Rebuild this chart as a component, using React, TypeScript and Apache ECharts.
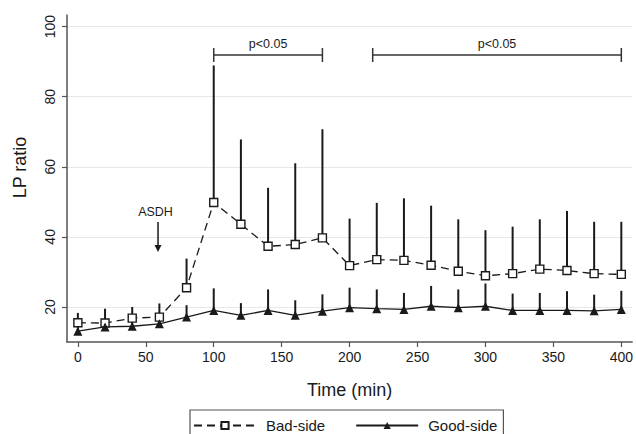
import React, { useEffect, useRef } from "react";
import * as echarts from "echarts";

const times = [0, 20, 40, 60, 80, 100, 120, 140, 160, 180, 200, 220, 240, 260, 280, 300, 320, 340, 360, 380, 400];
const badMean = [15.5, 15.4, 16.8, 17.1, 25.5, 49.8, 43.6, 37.3, 37.8, 39.7, 31.8, 33.5, 33.3, 31.9, 30.2, 28.9, 29.5, 30.8, 30.4, 29.5, 29.3];
const badUpper = [18.3, 19.5, 20, 21, 33.8, 88.9, 67.8, 54, 61, 70.7, 45.2, 49.7, 51, 48.9, 45, 41.9, 42.9, 45, 47.4, 44.3, 44.3];
const goodMean = [13.1, 14.3, 14.5, 15.2, 17.1, 19, 17.6, 19, 17.6, 18.8, 19.8, 19.5, 19.3, 20.2, 19.8, 20.2, 19, 19, 19, 18.9, 19.3];
const goodUpper = [15, 16, 16.5, 17.5, 20.5, 25.3, 21.1, 25, 21.9, 23.6, 25.5, 25, 24, 26, 25, 26.7, 23.8, 24, 24.5, 23.5, 24.6];

const xTicks = [0, 50, 100, 150, 200, 250, 300, 350, 400];
const yTicks = [20, 40, 60, 80, 100];

const sigStart = [100, 217];
const sigEnd = [180, 400];
const sigLevel = [91.9, 91.9];
const sigLabels = ["p<0.05", "p<0.05"];

const eventTimes = [59];
const eventLevels = [35.7];
const eventLabels = ["ASDH"];

const FONT = "'Liberation Sans', Arial, Helvetica, sans-serif";
const INK = "#1a1a1a";

export default function App() {
  const ref = useRef<HTMLDivElement>(null);
  useEffect(() => {
    if (!ref.current) return;
    const chart = echarts.init(ref.current, undefined, { renderer: "svg" });

    const errRender = (color: string) => (params: any, api: any) => {
      const x = api.value(0);
      const m = api.value(1);
      const u = api.value(2);
      const p1 = api.coord([x, m]);
      const p2 = api.coord([x, u]);
      return {
        type: "line",
        shape: { x1: p1[0], y1: p1[1], x2: p2[0], y2: p2[1] },
        style: { stroke: color, lineWidth: 2 },
      };
    };

    const option: any = {
      animation: false,
      textStyle: { fontFamily: FONT },
      grid: { left: 67, right: 1, top: 15, bottom: 92 },
      xAxis: {
        type: "value",
        min: -8,
        max: 408,
        name: "Time (min)",
        nameLocation: "middle",
        nameGap: 39,
        nameTextStyle: { fontSize: 18, color: INK, fontFamily: FONT },
        axisLine: { show: true, onZero: false, lineStyle: { color: "#555", width: 1.5 } },
        axisTick: { show: true, length: 5, customValues: xTicks, lineStyle: { color: "#555", width: 1.2 } },
        axisLabel: { customValues: xTicks, fontSize: 14, color: INK, margin: 8, fontFamily: FONT },
        splitLine: { show: false },
      },
      yAxis: {
        type: "value",
        min: 10,
        max: 103.3,
        axisLine: { show: true, onZero: false, lineStyle: { color: "#555", width: 1.5 } },
        axisTick: { show: true, length: 5, customValues: yTicks, lineStyle: { color: "#555", width: 1.2 } },
        axisLabel: { customValues: yTicks, rotate: 90, fontSize: 14, color: INK, margin: 10, fontFamily: FONT },
        splitLine: { show: false },
      },
      graphic: [
        {
          type: "text",
          x: 19.5,
          y: 167.5,
          rotation: Math.PI / 2,
          style: {
            text: "LP ratio",
            font: `18px ${FONT}`,
            fill: INK,
            textAlign: "center",
            textVerticalAlign: "middle",
          },
        },
      ],
      legend: {
        left: 190,
        top: 410,
        orient: "horizontal",
        data: ["Bad-side", "Good-side"],
        itemWidth: 62,
        itemHeight: 9,
        itemGap: 30,
        padding: [8, 6, 14, 3],
        borderColor: "#555",
        borderWidth: 1.2,
        borderRadius: 0,
        textStyle: { fontSize: 15, color: INK, fontFamily: FONT, padding: [0, 0, 0, 5] },
      },
      series: [
        {
          name: "grid",
          type: "custom",
          silent: true,
          z: 0,
          data: [],
          renderItem: () => null,
          markLine: {
            silent: true,
            symbol: "none",
            z: 0,
            label: { show: false },
            lineStyle: { color: "#e8e8e8", width: 1, type: "solid" },
            data: yTicks.map((v) => ({ yAxis: v })),
          },
        },
        {
          name: "badErr",
          type: "custom",
          silent: true,
          z: 1,
          data: times.map((t, i) => [t, badMean[i], badUpper[i]]),
          renderItem: errRender(INK),
        },
        {
          name: "goodErr",
          type: "custom",
          silent: true,
          z: 1,
          data: times.map((t, i) => [t, goodMean[i], goodUpper[i]]),
          renderItem: errRender(INK),
        },
        {
          name: "Bad-side",
          type: "line",
          z: 3,
          data: times.map((t, i) => [t, badMean[i]]),
          symbol: "rect",
          symbolSize: 8,
          lineStyle: { color: INK, width: 1.3, type: [8, 5] },
          itemStyle: { color: "#fff", borderColor: INK, borderWidth: 1.4 },
        },
        {
          name: "Good-side",
          type: "line",
          z: 3,
          data: times.map((t, i) => [t, goodMean[i]]),
          symbol: "triangle",
          symbolSize: 9,
          lineStyle: { color: INK, width: 1.3, type: "solid" },
          itemStyle: { color: INK, borderColor: INK, borderWidth: 0 },
        },
        {
          name: "sig",
          type: "custom",
          silent: true,
          z: 4,
          data: sigStart.map((s, i) => [s, sigEnd[i], sigLevel[i]]),
          renderItem: (params: any, api: any) => {
            const a = api.coord([api.value(0), api.value(2)]);
            const b = api.coord([api.value(1), api.value(2)]);
            const st = { stroke: "#333", lineWidth: 1.5 };
            return {
              type: "group",
              children: [
                { type: "line", shape: { x1: a[0], y1: a[1], x2: b[0], y2: b[1] }, style: st },
                { type: "line", shape: { x1: a[0], y1: a[1] - 7, x2: a[0], y2: a[1] + 7 }, style: st },
                { type: "line", shape: { x1: b[0], y1: b[1] - 7, x2: b[0], y2: b[1] + 7 }, style: st },
                {
                  type: "text",
                  x: (a[0] + b[0]) / 2,
                  y: a[1] - 4,
                  style: {
                    text: sigLabels[params.dataIndex],
                    textAlign: "center",
                    textVerticalAlign: "bottom",
                    font: `12.5px ${FONT}`,
                    fill: INK,
                  },
                },
              ],
            };
          },
        },
        {
          name: "event",
          type: "custom",
          silent: true,
          z: 4,
          data: eventTimes.map((t, i) => [t, eventLevels[i]]),
          renderItem: (params: any, api: any) => {
            const p = api.coord([api.value(0), api.value(1)]);
            return {
              type: "group",
              children: [
                { type: "line", shape: { x1: p[0], y1: p[1] - 30, x2: p[0], y2: p[1] - 6 }, style: { stroke: INK, lineWidth: 1.5 } },
                {
                  type: "polygon",
                  shape: { points: [[p[0] - 3.5, p[1] - 7], [p[0] + 3.5, p[1] - 7], [p[0], p[1]]] },
                  style: { fill: INK },
                },
                {
                  type: "text",
                  x: p[0] - 2.5,
                  y: p[1] - 40,
                  style: {
                    text: eventLabels[params.dataIndex],
                    textAlign: "center",
                    textVerticalAlign: "middle",
                    font: `12.5px ${FONT}`,
                    fill: INK,
                  },
                },
              ],
            };
          },
        },
      ],
    };
    chart.setOption(option);
    return () => chart.dispose();
  }, []);
  return <div ref={ref} style={{ position: "absolute", left: 0, top: 0, width: 636, height: 434, background: "#fff" }} />;
}
